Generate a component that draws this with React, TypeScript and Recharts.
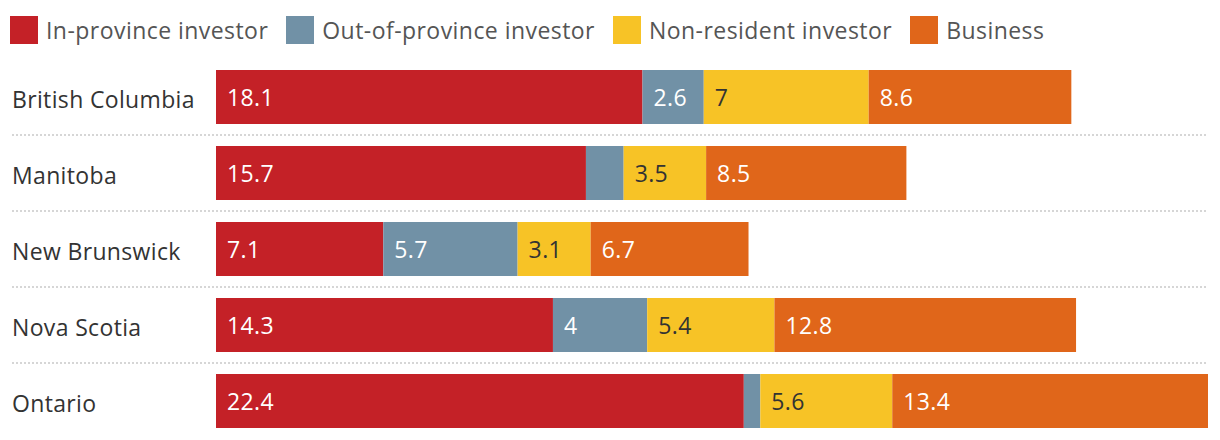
import { BarChart, Bar, XAxis, YAxis, CartesianGrid, LabelList } from "recharts";

const provinces = ["British Columbia", "Manitoba", "New Brunswick", "Nova Scotia", "Ontario"];
const inProvince = [18.1, 15.7, 7.1, 14.3, 22.4];
const outOfProvince = [2.6, 1.6, 5.7, 4, 0.7];
const nonResident = [7, 3.5, 3.1, 5.4, 5.6];
const business = [8.6, 8.5, 6.7, 12.8, 13.4];

const seriesKeys = ["inProvince", "outOfProvince", "nonResident", "business"];
const seriesNames = ["In-province investor", "Out-of-province investor", "Non-resident investor", "Business"];
const seriesColors = ["#c42127", "#7191a6", "#f7c326", "#e0661a"];
const labelColors = ["#ffffff", "#ffffff", "#333333", "#ffffff"];

const data = provinces.map((province, i) => ({
  province,
  inProvince: inProvince[i],
  outOfProvince: outOfProvince[i],
  nonResident: nonResident[i],
  business: business[i],
}));

const maxTotal = Math.max(
  ...provinces.map((_, i) => inProvince[i] + outOfProvince[i] + nonResident[i] + business[i])
);

const FONT = "'Open Sans', 'Noto Sans', sans-serif";

const ProvinceTick = ({ y, payload }: any) => (
  <text x={12} y={y} dy="0.46em" fontSize={23} fill="#333" fontFamily={FONT} letterSpacing={0.35} textAnchor="start">
    {payload.value}
  </text>
);

const segmentLabel = (color: string) => (props: any) => {
  const { x, y, width, height, value } = props;
  if (width < 45) return null;
  return (
    <text x={x + 11} y={y + height / 2} dy="0.38em" fontSize={23} fill={color} fontFamily={FONT} letterSpacing={0.4}>
      {value}
    </text>
  );
};

// dotted separators between the rows (band edges), not through them
const separatorLines = ({ offset }: any) => {
  const step = offset.height / provinces.length;
  return provinces.slice(1).map((_, i) => offset.top + step * (i + 1));
};

function LegendRow() {
  return (
    <div style={{ position: "absolute", left: 10, top: 16, display: "flex", alignItems: "center", fontFamily: FONT, fontSize: 23, color: "#555", letterSpacing: 0.45, zIndex: 1 }}>
      {seriesNames.map((name, i) => (
        <div key={name} style={{ display: "flex", alignItems: "center", marginRight: 18 }}>
          <span style={{ width: 28, height: 28, background: seriesColors[i], display: "inline-block", marginRight: 8 }} />
          <span style={{ lineHeight: "28px" }}>{name}</span>
        </div>
      ))}
    </div>
  );
}

export default function App() {
  return (
    <div style={{ position: "absolute", left: 0, top: 0, width: 1220, height: 440, background: "#fff" }}>
      <LegendRow />
      <BarChart
        width={1220}
        height={440}
        data={data}
        layout="vertical"
        margin={{ top: 59, right: 12, bottom: 1, left: 12 }}
        barSize={54}
      >
        <CartesianGrid
          vertical={false}
          x={12}
          width={1196}
          stroke="#d6d6d6"
          strokeWidth={2}
          strokeDasharray="2 2"
          horizontalCoordinatesGenerator={separatorLines}
        />
        <XAxis type="number" hide domain={[0, maxTotal]} allowDataOverflow />
        <YAxis
          type="category"
          dataKey="province"
          width={204}
          axisLine={false}
          tickLine={false}
          tick={<ProvinceTick />}
        />
        {seriesKeys.map((key, i) => (
          <Bar key={key} dataKey={key} name={seriesNames[i]} stackId="a" fill={seriesColors[i]} isAnimationActive={false}>
            <LabelList dataKey={key} content={segmentLabel(labelColors[i])} />
          </Bar>
        ))}
      </BarChart>
    </div>
  );
}
